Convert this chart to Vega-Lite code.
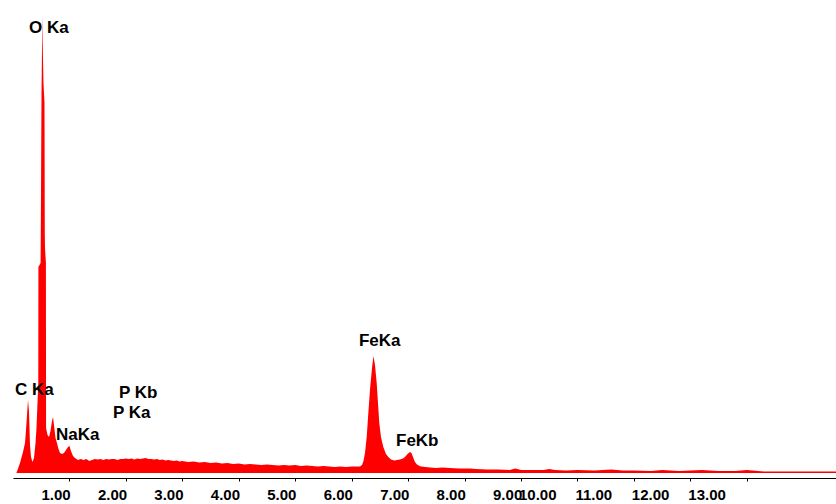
{
  "$schema": "https://vega.github.io/schema/vega-lite/v6.json",
  "width": 823,
  "height": 458,
  "autosize": {"type": "none"},
  "padding": {"left": 13, "top": 15, "right": 0, "bottom": 31},
  "background": "white",
  "config": {"view": {"stroke": null}},
  "datasets": {
    "spectrum": [
      {"energy_keV": 0.06, "counts": 0},
      {"energy_keV": 0.08, "counts": 3},
      {"energy_keV": 0.124, "counts": 10},
      {"energy_keV": 0.177, "counts": 21},
      {"energy_keV": 0.213, "counts": 30},
      {"energy_keV": 0.239, "counts": 50},
      {"energy_keV": 0.266, "counts": 73},
      {"energy_keV": 0.283, "counts": 62},
      {"energy_keV": 0.301, "counts": 28},
      {"energy_keV": 0.319, "counts": 16},
      {"energy_keV": 0.345, "counts": 11},
      {"energy_keV": 0.372, "counts": 15},
      {"energy_keV": 0.399, "counts": 30},
      {"energy_keV": 0.416, "counts": 45},
      {"energy_keV": 0.434, "counts": 70},
      {"energy_keV": 0.448, "counts": 90},
      {"energy_keV": 0.45, "counts": 206},
      {"energy_keV": 0.489, "counts": 210},
      {"energy_keV": 0.492, "counts": 240},
      {"energy_keV": 0.498, "counts": 300},
      {"energy_keV": 0.505, "counts": 380},
      {"energy_keV": 0.515, "counts": 430},
      {"energy_keV": 0.52, "counts": 458},
      {"energy_keV": 0.526, "counts": 430},
      {"energy_keV": 0.54, "counts": 390},
      {"energy_keV": 0.558, "counts": 370},
      {"energy_keV": 0.563, "counts": 240},
      {"energy_keV": 0.567, "counts": 225},
      {"energy_keV": 0.583, "counts": 210},
      {"energy_keV": 0.586, "counts": 45},
      {"energy_keV": 0.611, "counts": 38},
      {"energy_keV": 0.638, "counts": 36},
      {"energy_keV": 0.664, "counts": 42},
      {"energy_keV": 0.691, "counts": 52},
      {"energy_keV": 0.709, "counts": 56},
      {"energy_keV": 0.726, "counts": 48},
      {"energy_keV": 0.753, "counts": 35},
      {"energy_keV": 0.779, "counts": 30},
      {"energy_keV": 0.806, "counts": 24},
      {"energy_keV": 0.833, "counts": 20},
      {"energy_keV": 0.868, "counts": 19},
      {"energy_keV": 0.903, "counts": 20},
      {"energy_keV": 0.939, "counts": 23},
      {"energy_keV": 0.974, "counts": 26},
      {"energy_keV": 1.001, "counts": 27},
      {"energy_keV": 1.027, "counts": 22},
      {"energy_keV": 1.063, "counts": 17},
      {"energy_keV": 1.098, "counts": 15},
      {"energy_keV": 1.151, "counts": 13},
      {"energy_keV": 1.2, "counts": 14},
      {"energy_keV": 1.25, "counts": 13},
      {"energy_keV": 1.3, "counts": 14},
      {"energy_keV": 1.35, "counts": 12},
      {"energy_keV": 1.4, "counts": 13},
      {"energy_keV": 1.45, "counts": 14},
      {"energy_keV": 1.5, "counts": 13.5},
      {"energy_keV": 1.55, "counts": 14},
      {"energy_keV": 1.6, "counts": 13},
      {"energy_keV": 1.65, "counts": 14},
      {"energy_keV": 1.7, "counts": 13.5},
      {"energy_keV": 1.75, "counts": 14},
      {"energy_keV": 1.8, "counts": 14},
      {"energy_keV": 1.85, "counts": 13},
      {"energy_keV": 1.9, "counts": 14},
      {"energy_keV": 1.95, "counts": 14},
      {"energy_keV": 2.0, "counts": 14.5},
      {"energy_keV": 2.05, "counts": 14},
      {"energy_keV": 2.1, "counts": 14.5},
      {"energy_keV": 2.15, "counts": 13.5},
      {"energy_keV": 2.2, "counts": 14.5},
      {"energy_keV": 2.25, "counts": 14},
      {"energy_keV": 2.3, "counts": 14.5},
      {"energy_keV": 2.35, "counts": 15},
      {"energy_keV": 2.4, "counts": 14},
      {"energy_keV": 2.45, "counts": 14},
      {"energy_keV": 2.5, "counts": 13.5},
      {"energy_keV": 2.55, "counts": 14},
      {"energy_keV": 2.6, "counts": 13},
      {"energy_keV": 2.65, "counts": 13.5},
      {"energy_keV": 2.7, "counts": 12.5},
      {"energy_keV": 2.75, "counts": 13},
      {"energy_keV": 2.8, "counts": 12.5},
      {"energy_keV": 2.85, "counts": 12},
      {"energy_keV": 2.9, "counts": 12.5},
      {"energy_keV": 2.95, "counts": 11.5},
      {"energy_keV": 3.0, "counts": 12},
      {"energy_keV": 3.1, "counts": 11},
      {"energy_keV": 3.2, "counts": 11.5},
      {"energy_keV": 3.3, "counts": 10.5},
      {"energy_keV": 3.4, "counts": 11},
      {"energy_keV": 3.5, "counts": 10},
      {"energy_keV": 3.6, "counts": 10.5},
      {"energy_keV": 3.7, "counts": 9.5},
      {"energy_keV": 3.8, "counts": 10},
      {"energy_keV": 3.9, "counts": 9},
      {"energy_keV": 4.0, "counts": 9.5},
      {"energy_keV": 4.1, "counts": 8.5},
      {"energy_keV": 4.2, "counts": 9},
      {"energy_keV": 4.3, "counts": 8.5},
      {"energy_keV": 4.4, "counts": 8},
      {"energy_keV": 4.5, "counts": 8.5},
      {"energy_keV": 4.6, "counts": 8},
      {"energy_keV": 4.7, "counts": 7.5},
      {"energy_keV": 4.8, "counts": 8},
      {"energy_keV": 4.9, "counts": 7.5},
      {"energy_keV": 5.0, "counts": 8},
      {"energy_keV": 5.1, "counts": 7},
      {"energy_keV": 5.2, "counts": 7.5},
      {"energy_keV": 5.3, "counts": 7},
      {"energy_keV": 5.4, "counts": 6.5},
      {"energy_keV": 5.5, "counts": 7},
      {"energy_keV": 5.6, "counts": 6.5},
      {"energy_keV": 5.7, "counts": 6},
      {"energy_keV": 5.8, "counts": 6.5},
      {"energy_keV": 5.9, "counts": 6},
      {"energy_keV": 6.0, "counts": 6.5},
      {"energy_keV": 6.1, "counts": 6.5},
      {"energy_keV": 6.147, "counts": 6.5},
      {"energy_keV": 6.183, "counts": 8},
      {"energy_keV": 6.209, "counts": 12},
      {"energy_keV": 6.236, "counts": 20},
      {"energy_keV": 6.266, "counts": 36},
      {"energy_keV": 6.289, "counts": 55},
      {"energy_keV": 6.324, "counts": 83},
      {"energy_keV": 6.36, "counts": 105},
      {"energy_keV": 6.386, "counts": 117},
      {"energy_keV": 6.413, "counts": 108},
      {"energy_keV": 6.443, "counts": 90},
      {"energy_keV": 6.466, "counts": 70},
      {"energy_keV": 6.489, "counts": 50},
      {"energy_keV": 6.519, "counts": 36},
      {"energy_keV": 6.56, "counts": 26},
      {"energy_keV": 6.608, "counts": 19},
      {"energy_keV": 6.649, "counts": 16},
      {"energy_keV": 6.697, "counts": 13.5},
      {"energy_keV": 6.75, "counts": 12.5},
      {"energy_keV": 6.803, "counts": 13},
      {"energy_keV": 6.856, "counts": 13.5},
      {"energy_keV": 6.909, "counts": 14.5},
      {"energy_keV": 6.944, "counts": 16},
      {"energy_keV": 6.989, "counts": 19},
      {"energy_keV": 7.033, "counts": 21},
      {"energy_keV": 7.059, "counts": 20},
      {"energy_keV": 7.086, "counts": 16},
      {"energy_keV": 7.121, "counts": 11},
      {"energy_keV": 7.157, "counts": 8.5},
      {"energy_keV": 7.21, "counts": 6.7},
      {"energy_keV": 7.3, "counts": 6},
      {"energy_keV": 7.39, "counts": 5.5},
      {"energy_keV": 7.5, "counts": 5},
      {"energy_keV": 7.6, "counts": 5.5},
      {"energy_keV": 7.74, "counts": 5},
      {"energy_keV": 7.9, "counts": 4.5},
      {"energy_keV": 8.1, "counts": 4.5},
      {"energy_keV": 8.2, "counts": 4},
      {"energy_keV": 8.4, "counts": 3.5},
      {"energy_keV": 8.6, "counts": 3.5},
      {"energy_keV": 8.8, "counts": 3},
      {"energy_keV": 8.9, "counts": 4.5},
      {"energy_keV": 9.0, "counts": 3},
      {"energy_keV": 9.2, "counts": 3},
      {"energy_keV": 9.4, "counts": 3},
      {"energy_keV": 9.5, "counts": 4},
      {"energy_keV": 9.6, "counts": 3},
      {"energy_keV": 9.8, "counts": 2.5},
      {"energy_keV": 10.0, "counts": 3},
      {"energy_keV": 10.3, "counts": 2.5},
      {"energy_keV": 10.6, "counts": 3.5},
      {"energy_keV": 10.8, "counts": 2.5},
      {"energy_keV": 11.0, "counts": 2.5},
      {"energy_keV": 11.3, "counts": 2},
      {"energy_keV": 11.5, "counts": 3},
      {"energy_keV": 11.8, "counts": 2},
      {"energy_keV": 12.2, "counts": 3},
      {"energy_keV": 12.5, "counts": 2},
      {"energy_keV": 12.8, "counts": 2},
      {"energy_keV": 13.0, "counts": 3},
      {"energy_keV": 13.3, "counts": 1.5},
      {"energy_keV": 14.0, "counts": 1.5},
      {"energy_keV": 14.58, "counts": 1.5}
    ],
    "lines": [
      {"label": "O Ka", "energy_keV": 0.283, "counts": 445},
      {"label": "C Ka", "energy_keV": 0.035, "counts": 83},
      {"label": "P Kb", "energy_keV": 1.878, "counts": 80},
      {"label": "P Ka", "energy_keV": 1.771, "counts": 60},
      {"label": "NaKa", "energy_keV": 0.762, "counts": 38},
      {"label": "FeKa", "energy_keV": 6.129, "counts": 132},
      {"label": "FeKb", "energy_keV": 6.785, "counts": 32}
    ]
  },
  "layer": [
    {
      "data": {"name": "spectrum"},
      "mark": {"type": "area", "color": "#ff0000", "interpolate": "linear"},
      "encoding": {
        "x": {
          "field": "energy_keV",
          "type": "quantitative",
          "scale": {"domain": [0, 14.58], "nice": false, "zero": false},
          "axis": {
            "values": [1, 2, 3, 4, 5, 6, 7, 8, 9, 10, 11, 12, 13],
            "format": ".2f",
            "title": null,
            "grid": false,
            "offset": 5,
            "domainColor": "#000000",
            "domainWidth": 1,
            "tickColor": "#000000",
            "tickSize": 3,
            "tickWidth": 1,
            "labelFont": "Liberation Sans",
            "labelFontWeight": "bold",
            "labelFontSize": 15,
            "labelColor": "#000000",
            "labelAlign": "left",
            "labelBaseline": "top",
            "labelPadding": 6,
            "labelOffset": {"condition": {"test": "datum.value >= 10", "value": -59}, "value": -28.5},
            "labelOverlap": false,
            "labelFlush": false,
            "labelBound": false
          }
        },
        "y": {
          "field": "counts",
          "type": "quantitative",
          "scale": {"domain": [0, 458], "nice": false},
          "axis": null
        }
      }
    },
    {
      "data": {"name": "lines"},
      "mark": {"type": "text", "align": "left", "baseline": "middle", "font": "Liberation Sans", "fontWeight": "bold", "fontSize": 17, "color": "#000000"},
      "encoding": {
        "x": {"field": "energy_keV", "type": "quantitative"},
        "y": {"field": "counts", "type": "quantitative"},
        "text": {"field": "label"}
      }
    }
  ]
}
